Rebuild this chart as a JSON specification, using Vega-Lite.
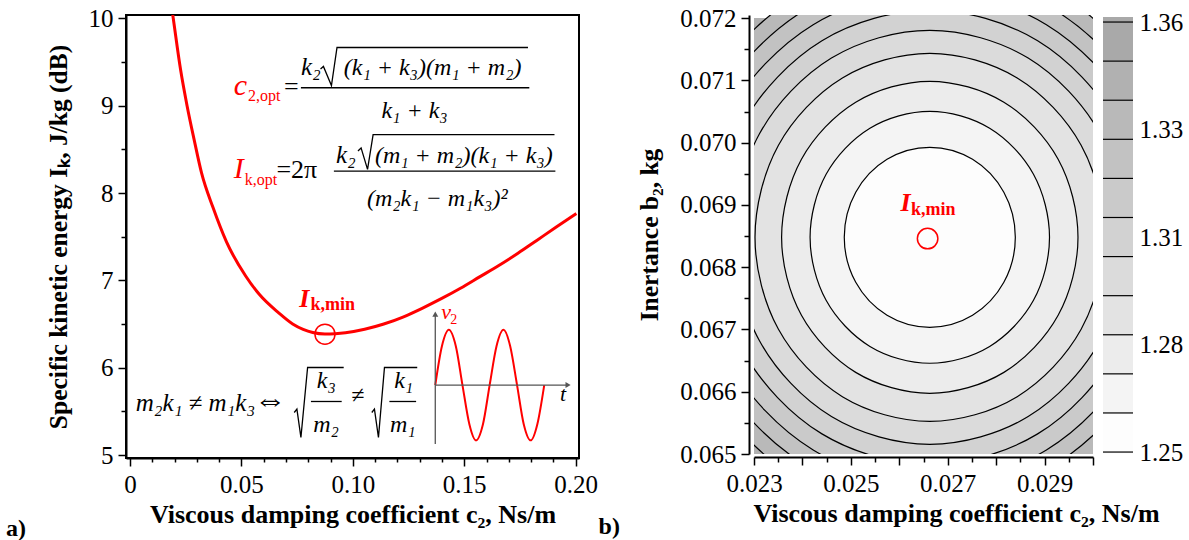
{
  "$schema": "https://vega.github.io/schema/vega-lite/v6.json",
  "background": "white",
  "padding": {"left": 5, "top": 5, "right": 0, "bottom": 0},
  "bounds": "flush",
  "spacing": 175,
  "config": {
    "font": "Liberation Serif",
    "axis": {"labelFont": "Liberation Serif", "titleFont": "Liberation Serif", "labelColor": "black", "titleColor": "black", "domainColor": "black", "tickColor": "black", "grid": false, "labelFontSize": 25, "titleFontSize": 26, "titleFontWeight": "bold", "labelFlush": false, "labelOverlap": false},
    "text": {"font": "Liberation Serif"}
  },
  "hconcat": [
    {
      "width": 453,
      "height": 443,
      "view": {"stroke": "black", "strokeWidth": 2},
      "resolve": {"axis": {"x": "independent", "y": "independent"}},
      "layer": [
        {
          "data": {"values": [
            {"c": 0.0180, "I": 10.25}, {"c": 0.0194, "I": 10.00}, {"c": 0.0227, "I": 9.41}, {"c": 0.0256, "I": 9.00},
            {"c": 0.0287, "I": 8.62}, {"c": 0.0321, "I": 8.23}, {"c": 0.0373, "I": 7.83}, {"c": 0.0433, "I": 7.44},
            {"c": 0.0519, "I": 7.05}, {"c": 0.0580, "I": 6.84}, {"c": 0.0666, "I": 6.63}, {"c": 0.0730, "I": 6.50},
            {"c": 0.0777, "I": 6.438}, {"c": 0.0820, "I": 6.402}, {"c": 0.0875, "I": 6.385}, {"c": 0.0921, "I": 6.389},
            {"c": 0.0967, "I": 6.40}, {"c": 0.1053, "I": 6.44}, {"c": 0.1139, "I": 6.50},
            {"c": 0.1225, "I": 6.58}, {"c": 0.1311, "I": 6.68}, {"c": 0.1397, "I": 6.79}, {"c": 0.1483, "I": 6.91},
            {"c": 0.1569, "I": 7.04}, {"c": 0.1655, "I": 7.17}, {"c": 0.1741, "I": 7.31}, {"c": 0.1827, "I": 7.46},
            {"c": 0.1913, "I": 7.61}, {"c": 0.2003, "I": 7.765}
          ]},
          "mark": {"type": "line", "color": "#ff0000", "strokeWidth": 3, "interpolate": "monotone", "clip": true},
          "encoding": {
            "x": {"field": "c", "type": "quantitative", "scale": {"domain": [-0.0018, 0.2015], "nice": false, "zero": false},
              "axis": {"values": [0, 0.05, 0.1, 0.15, 0.2], "labelExpr": "datum.value == 0 ? '0' : format(datum.value, '.2f')", "tickSize": 8, "tickWidth": 1.5, "domainWidth": 2, "labelPadding": 6, "title": "Viscous damping coefficient  c₂, Ns/m", "titlePadding": 4}},
            "y": {"field": "I", "type": "quantitative", "scale": {"domain": [4.966, 10.038], "nice": false, "zero": false},
              "axis": {"values": [5, 6, 7, 8, 9, 10], "format": "d", "tickSize": 8, "tickWidth": 1.5, "domainWidth": 2, "labelPadding": 5, "title": "Specific kinetic energy Iₖ, J/kg (dB)", "titleFontSize": 25.5, "titlePadding": 17}}
          }
        },
        {
          "data": {"values": [{"c": 0.0875, "I": 6.384}]},
          "mark": {"type": "point", "shape": "circle", "size": 400, "filled": false, "stroke": "#ff0000", "strokeWidth": 1.5, "opacity": 1},
          "encoding": {
            "x": {"field": "c", "type": "quantitative", "axis": {"orient": "bottom", "values": [0.01, 0.02, 0.03, 0.04, 0.06, 0.07, 0.08, 0.09, 0.11, 0.12, 0.13, 0.14, 0.16, 0.17, 0.18, 0.19], "tickSize": 4, "tickWidth": 1.5, "labels": false, "domain": false, "title": null}},
            "y": {"field": "I", "type": "quantitative", "axis": {"orient": "left", "values": [5.5, 6.5, 7.5, 8.5, 9.5], "tickSize": 5, "tickWidth": 1.5, "labels": false, "domain": false, "title": null}}
          }
        },
        {
          "data": {"values": [
            {"c": 0.1370, "I": 5.801}, {"c": 0.1400, "I": 6.249}, {"c": 0.1431, "I": 6.434}, {"c": 0.1462, "I": 6.249},
            {"c": 0.1492, "I": 5.801}, {"c": 0.1523, "I": 5.353}, {"c": 0.1553, "I": 5.168}, {"c": 0.1584, "I": 5.353},
            {"c": 0.1614, "I": 5.801}, {"c": 0.1645, "I": 6.249}, {"c": 0.1676, "I": 6.434}, {"c": 0.1706, "I": 6.249},
            {"c": 0.1737, "I": 5.801}, {"c": 0.1767, "I": 5.353}, {"c": 0.1798, "I": 5.168}, {"c": 0.1828, "I": 5.353},
            {"c": 0.1859, "I": 5.801}
          ]},
          "mark": {"type": "line", "color": "#ff0000", "strokeWidth": 2, "interpolate": "cardinal"},
          "encoding": {
            "x": {"field": "c", "type": "quantitative", "axis": null},
            "y": {"field": "I", "type": "quantitative", "axis": null}
          }
        },
        {
          "data": {"values": [
            {"x": 0.1370, "x2": 0.1370, "y": 5.126, "y2": 6.613},
            {"x": 0.1370, "x2": 0.1966, "y": 5.801, "y2": 5.801}
          ]},
          "mark": {"type": "rule", "color": "#555555", "strokeWidth": 1.3},
          "encoding": {
            "x": {"field": "x", "type": "quantitative", "axis": null}, "x2": {"field": "x2"},
            "y": {"field": "y", "type": "quantitative", "axis": null}, "y2": {"field": "y2"}
          }
        },
        {
          "data": {"values": [{"x": 0.1370, "y": 6.613}]},
          "mark": {"type": "point", "shape": "triangle-up", "size": 35, "filled": true, "color": "#555555", "opacity": 1},
          "encoding": {"x": {"field": "x", "type": "quantitative", "axis": null}, "y": {"field": "y", "type": "quantitative", "axis": null}}
        },
        {
          "data": {"values": [{"x": 0.1966, "y": 5.801}]},
          "mark": {"type": "point", "shape": "triangle-right", "size": 35, "filled": true, "color": "#555555", "opacity": 1},
          "encoding": {"x": {"field": "x", "type": "quantitative", "axis": null}, "y": {"field": "y", "type": "quantitative", "axis": null}}
        },
        {
          "data": {"values": [
            {"x": 0.0767, "x2": 0.1792, "y": 9.205},
            {"x": 0.0915, "x2": 0.1909, "y": 8.250},
            {"x": 0.0812, "x2": 0.0950, "y": 5.613},
            {"x": 0.1164, "x2": 0.1284, "y": 5.613}
          ]},
          "mark": {"type": "rule", "color": "black", "strokeWidth": 1.3},
          "encoding": {
            "x": {"field": "x", "type": "quantitative", "axis": null}, "x2": {"field": "x2"},
            "y": {"field": "y", "type": "quantitative", "axis": null}
          }
        },
        {
          "data": {"values": [
            {"g": 1, "i": 0, "x": 0.0855, "y": 9.420}, {"g": 1, "i": 1, "x": 0.0868, "y": 9.449}, {"g": 1, "i": 2, "x": 0.0904, "y": 9.231}, {"g": 1, "i": 3, "x": 0.0929, "y": 9.666}, {"g": 1, "i": 4, "x": 0.1786, "y": 9.666},
            {"g": 2, "i": 0, "x": 0.1023, "y": 8.482}, {"g": 2, "i": 1, "x": 0.1037, "y": 8.516}, {"g": 2, "i": 2, "x": 0.1066, "y": 8.270}, {"g": 2, "i": 3, "x": 0.1091, "y": 8.669}, {"g": 2, "i": 4, "x": 0.1905, "y": 8.669},
            {"g": 3, "i": 0, "x": 0.0737, "y": 5.487}, {"g": 3, "i": 1, "x": 0.0749, "y": 5.526}, {"g": 3, "i": 2, "x": 0.0767, "y": 5.201}, {"g": 3, "i": 3, "x": 0.0797, "y": 6.002}, {"g": 3, "i": 4, "x": 0.0959, "y": 6.002},
            {"g": 4, "i": 0, "x": 0.1085, "y": 5.487}, {"g": 4, "i": 1, "x": 0.1097, "y": 5.526}, {"g": 4, "i": 2, "x": 0.1115, "y": 5.201}, {"g": 4, "i": 3, "x": 0.1142, "y": 6.002}, {"g": 4, "i": 4, "x": 0.1289, "y": 6.002}
          ]},
          "mark": {"type": "line", "color": "black", "strokeWidth": 1.3, "interpolate": "linear"},
          "encoding": {
            "x": {"field": "x", "type": "quantitative", "axis": null},
            "y": {"field": "y", "type": "quantitative", "axis": null},
            "detail": {"field": "g", "type": "nominal"},
            "order": {"field": "i", "type": "quantitative"}
          }
        },
        {
          "data": {"values": [
            {"x": 0.1358, "y": 9.351, "t": "(k₁ + k₃)(m₁ + m₂)"},
            {"x": 0.1277, "y": 8.859, "t": "k₁ + k₃"},
            {"x": 0.1498, "y": 8.347, "t": "(m₁ + m₂)(k₁ + k₃)"},
            {"x": 0.1379, "y": 7.854, "t": "(m₂k₁ − m₁k₃)²"},
            {"x": 0.0881, "y": 5.764, "t": "k₃"},
            {"x": 0.0880, "y": 5.267, "t": "m₂"},
            {"x": 0.1228, "y": 5.764, "t": "k₁"},
            {"x": 0.1224, "y": 5.267, "t": "m₁"},
            {"x": 0.1022, "y": 5.590, "t": "≠"}
          ]},
          "mark": {"type": "text", "fontSize": 24, "fontStyle": "italic", "align": "center", "baseline": "alphabetic", "color": "black"},
          "encoding": {"x": {"field": "x", "type": "quantitative", "axis": null}, "y": {"field": "y", "type": "quantitative", "axis": null}, "text": {"field": "t"}}
        },
        {
          "data": {"values": [
            {"x": 0.0767, "y": 9.351, "t": "k₂"},
            {"x": 0.0924, "y": 8.347, "t": "k₂"},
            {"x": 0.0026, "y": 5.507, "t": "m₂k₁ ≠ m₁k₃"}
          ]},
          "mark": {"type": "text", "fontSize": 25, "fontStyle": "italic", "align": "left", "baseline": "alphabetic", "color": "black"},
          "encoding": {"x": {"field": "x", "type": "quantitative", "axis": null}, "y": {"field": "y", "type": "quantitative", "axis": null}, "text": {"field": "t"}}
        },
        {
          "data": {"values": [{"x": 0.0628, "y": 5.52, "t": "⇔"}]},
          "mark": {"type": "text", "fontSize": 32, "align": "center", "baseline": "alphabetic", "color": "black"},
          "encoding": {"x": {"field": "x", "type": "quantitative", "axis": null}, "y": {"field": "y", "type": "quantitative", "axis": null}, "text": {"field": "t"}}
        },
        {
          "data": {"values": [
            {"x": 0.0691, "y": 9.119, "t": "="},
            {"x": 0.0657, "y": 8.175, "t": "=2π"}
          ]},
          "mark": {"type": "text", "fontSize": 26, "align": "left", "baseline": "alphabetic", "color": "black"},
          "encoding": {"x": {"field": "x", "type": "quantitative", "axis": null}, "y": {"field": "y", "type": "quantitative", "axis": null}, "text": {"field": "t"}}
        },
        {
          "data": {"values": [
            {"x": 0.0466, "y": 9.126, "t": "c"},
            {"x": 0.0466, "y": 8.169, "t": "I"}
          ]},
          "mark": {"type": "text", "fontSize": 30, "fontStyle": "italic", "align": "left", "baseline": "alphabetic", "color": "#ff0000"},
          "encoding": {"x": {"field": "x", "type": "quantitative", "axis": null}, "y": {"field": "y", "type": "quantitative", "axis": null}, "text": {"field": "t"}}
        },
        {
          "data": {"values": [
            {"x": 0.0530, "y": 9.054, "t": "2,opt"},
            {"x": 0.0515, "y": 8.090, "t": "k,opt"}
          ]},
          "mark": {"type": "text", "fontSize": 16, "align": "left", "baseline": "alphabetic", "color": "#ff0000"},
          "encoding": {"x": {"field": "x", "type": "quantitative", "axis": null}, "y": {"field": "y", "type": "quantitative", "axis": null}, "text": {"field": "t"}}
        },
        {
          "data": {"values": [{"x": 0.0760, "y": 6.699, "t": "I"}]},
          "mark": {"type": "text", "fontSize": 26, "fontStyle": "italic", "fontWeight": "bold", "align": "left", "baseline": "alphabetic", "color": "#ff0000"},
          "encoding": {"x": {"field": "x", "type": "quantitative", "axis": null}, "y": {"field": "y", "type": "quantitative", "axis": null}, "text": {"field": "t"}}
        },
        {
          "data": {"values": [{"x": 0.0810, "y": 6.664, "t": "k,min"}]},
          "mark": {"type": "text", "fontSize": 18, "fontWeight": "bold", "align": "left", "baseline": "alphabetic", "color": "#ff0000"},
          "encoding": {"x": {"field": "x", "type": "quantitative", "axis": null}, "y": {"field": "y", "type": "quantitative", "axis": null}, "text": {"field": "t"}}
        },
        {
          "data": {"values": [{"x": 0.1397, "y": 6.554, "t": "v"}]},
          "mark": {"type": "text", "fontSize": 22, "fontStyle": "italic", "align": "left", "baseline": "alphabetic", "color": "#ff0000"},
          "encoding": {"x": {"field": "x", "type": "quantitative", "axis": null}, "y": {"field": "y", "type": "quantitative", "axis": null}, "text": {"field": "t"}}
        },
        {
          "data": {"values": [{"x": 0.1437, "y": 6.500, "t": "2"}]},
          "mark": {"type": "text", "fontSize": 14, "align": "left", "baseline": "alphabetic", "color": "#ff0000"},
          "encoding": {"x": {"field": "x", "type": "quantitative", "axis": null}, "y": {"field": "y", "type": "quantitative", "axis": null}, "text": {"field": "t"}}
        },
        {
          "data": {"values": [{"x": 0.1944, "y": 5.620, "t": "t"}]},
          "mark": {"type": "text", "fontSize": 22, "fontStyle": "italic", "align": "center", "baseline": "alphabetic", "color": "black"},
          "encoding": {"x": {"field": "x", "type": "quantitative", "axis": null}, "y": {"field": "y", "type": "quantitative", "axis": null}, "text": {"field": "t"}}
        },
        {
          "data": {"values": [{"x": -0.0556, "y": 4.077, "t": "a)"}, {"x": 0.2103, "y": 4.100, "t": "b)"}]},
          "mark": {"type": "text", "fontSize": 24, "fontWeight": "bold", "align": "left", "baseline": "alphabetic", "color": "black"},
          "encoding": {"x": {"field": "x", "type": "quantitative", "axis": null}, "y": {"field": "y", "type": "quantitative", "axis": null}, "text": {"field": "t"}}
        }
      ]
    },
    {
      "bounds": "flush",
      "spacing": 10,
      "hconcat": [
        {
          "width": 339,
          "height": 439,
          "view": {"stroke": null},
          "resolve": {"axis": {"x": "independent", "y": "independent"}},
          "layer": [
            {
              "data": {"values": [{"x": 0.023, "x2": 0.030, "y": 0.065, "y2": 0.072, "L": 1.35}]},
              "mark": {"type": "rect"},
              "encoding": {
                "x": {"field": "x", "type": "quantitative", "scale": {"domain": [0.023, 0.030], "nice": false, "zero": false},
                  "axis": {"values": [0.023, 0.024, 0.025, 0.026, 0.027, 0.028, 0.029, 0.030], "labelExpr": "(round(datum.value*1000) % 2 == 1) ? format(datum.value, '.3f') : ''", "tickSize": 8, "tickWidth": 1.5, "domainWidth": 2, "offset": 3, "labelPadding": 6, "title": "Viscous damping coefficient  c₂, Ns/m", "titlePadding": 4, "titleX": 202, "titleAlign": "center"}},
                "x2": {"field": "x2"},
                "y": {"field": "y", "type": "quantitative", "scale": {"domain": [0.065, 0.07205], "nice": false, "zero": false},
                  "axis": {"values": [0.065, 0.066, 0.067, 0.068, 0.069, 0.070, 0.071, 0.072], "format": ".3f", "tickSize": 8, "tickWidth": 1.5, "domainWidth": 2, "offset": 5, "labelPadding": 5, "title": "Inertance b₂, kg", "titleFontSize": 25.5, "titlePadding": 17}},
                "y2": {"field": "y2"},
                "color": {"field": "L", "type": "quantitative", "scale": {"domain": [1.26, 1.36], "range": ["#fdfdfd", "#a9a9a9"]}, "legend": null}
              }
            },
            {
              "data": {"values": [
                {"L":1.34,"i":0,"x":0.032097,"y":0.068480},{"L":1.34,"i":1,"x":0.031364,"y":0.070718},{"L":1.34,"i":2,"x":0.029364,"y":0.072356},{"L":1.34,"i":3,"x":0.026630,"y":0.072956},{"L":1.34,"i":4,"x":0.023896,"y":0.072356},{"L":1.34,"i":5,"x":0.021896,"y":0.070718},{"L":1.34,"i":6,"x":0.021163,"y":0.068480},{"L":1.34,"i":7,"x":0.021896,"y":0.066242},{"L":1.34,"i":8,"x":0.023896,"y":0.064604},{"L":1.34,"i":9,"x":0.026630,"y":0.064004},{"L":1.34,"i":10,"x":0.029364,"y":0.064604},{"L":1.34,"i":11,"x":0.031364,"y":0.066242},
                {"L":1.33,"i":0,"x":0.031781,"y":0.068480},{"L":1.33,"i":1,"x":0.031091,"y":0.070589},{"L":1.33,"i":2,"x":0.029206,"y":0.072132},{"L":1.33,"i":3,"x":0.026630,"y":0.072697},{"L":1.33,"i":4,"x":0.024054,"y":0.072132},{"L":1.33,"i":5,"x":0.022169,"y":0.070589},{"L":1.33,"i":6,"x":0.021479,"y":0.068480},{"L":1.33,"i":7,"x":0.022169,"y":0.066371},{"L":1.33,"i":8,"x":0.024054,"y":0.064828},{"L":1.33,"i":9,"x":0.026630,"y":0.064263},{"L":1.33,"i":10,"x":0.029206,"y":0.064828},{"L":1.33,"i":11,"x":0.031091,"y":0.066371},
                {"L":1.32,"i":0,"x":0.031446,"y":0.068480},{"L":1.32,"i":1,"x":0.030801,"y":0.070452},{"L":1.32,"i":2,"x":0.029038,"y":0.071895},{"L":1.32,"i":3,"x":0.026630,"y":0.072423},{"L":1.32,"i":4,"x":0.024222,"y":0.071895},{"L":1.32,"i":5,"x":0.022459,"y":0.070452},{"L":1.32,"i":6,"x":0.021814,"y":0.068480},{"L":1.32,"i":7,"x":0.022459,"y":0.066508},{"L":1.32,"i":8,"x":0.024222,"y":0.065065},{"L":1.32,"i":9,"x":0.026630,"y":0.064537},{"L":1.32,"i":10,"x":0.029038,"y":0.065065},{"L":1.32,"i":11,"x":0.030801,"y":0.066508},
                {"L":1.31,"i":0,"x":0.031083,"y":0.068480},{"L":1.31,"i":1,"x":0.030486,"y":0.070303},{"L":1.31,"i":2,"x":0.028857,"y":0.071637},{"L":1.31,"i":3,"x":0.026630,"y":0.072125},{"L":1.31,"i":4,"x":0.024403,"y":0.071637},{"L":1.31,"i":5,"x":0.022774,"y":0.070303},{"L":1.31,"i":6,"x":0.022177,"y":0.068480},{"L":1.31,"i":7,"x":0.022774,"y":0.066657},{"L":1.31,"i":8,"x":0.024403,"y":0.065323},{"L":1.31,"i":9,"x":0.026630,"y":0.064835},{"L":1.31,"i":10,"x":0.028857,"y":0.065323},{"L":1.31,"i":11,"x":0.030486,"y":0.066657},
                {"L":1.30,"i":0,"x":0.030691,"y":0.068480},{"L":1.30,"i":1,"x":0.030147,"y":0.070142},{"L":1.30,"i":2,"x":0.028661,"y":0.071359},{"L":1.30,"i":3,"x":0.026630,"y":0.071804},{"L":1.30,"i":4,"x":0.024599,"y":0.071359},{"L":1.30,"i":5,"x":0.023113,"y":0.070142},{"L":1.30,"i":6,"x":0.022569,"y":0.068480},{"L":1.30,"i":7,"x":0.023113,"y":0.066818},{"L":1.30,"i":8,"x":0.024599,"y":0.065601},{"L":1.30,"i":9,"x":0.026630,"y":0.065156},{"L":1.30,"i":10,"x":0.028661,"y":0.065601},{"L":1.30,"i":11,"x":0.030147,"y":0.066818},
                {"L":1.29,"i":0,"x":0.030239,"y":0.068480},{"L":1.29,"i":1,"x":0.029755,"y":0.069958},{"L":1.29,"i":2,"x":0.028435,"y":0.071039},{"L":1.29,"i":3,"x":0.026630,"y":0.071435},{"L":1.29,"i":4,"x":0.024825,"y":0.071039},{"L":1.29,"i":5,"x":0.023505,"y":0.069958},{"L":1.29,"i":6,"x":0.023021,"y":0.068480},{"L":1.29,"i":7,"x":0.023505,"y":0.067002},{"L":1.29,"i":8,"x":0.024825,"y":0.065921},{"L":1.29,"i":9,"x":0.026630,"y":0.065525},{"L":1.29,"i":10,"x":0.028435,"y":0.065921},{"L":1.29,"i":11,"x":0.029755,"y":0.067002},
                {"L":1.28,"i":0,"x":0.029690,"y":0.068480},{"L":1.28,"i":1,"x":0.029280,"y":0.069733},{"L":1.28,"i":2,"x":0.028160,"y":0.070649},{"L":1.28,"i":3,"x":0.026630,"y":0.070985},{"L":1.28,"i":4,"x":0.025100,"y":0.070649},{"L":1.28,"i":5,"x":0.023980,"y":0.069733},{"L":1.28,"i":6,"x":0.023570,"y":0.068480},{"L":1.28,"i":7,"x":0.023980,"y":0.067227},{"L":1.28,"i":8,"x":0.025100,"y":0.066311},{"L":1.28,"i":9,"x":0.026630,"y":0.065975},{"L":1.28,"i":10,"x":0.028160,"y":0.066311},{"L":1.28,"i":11,"x":0.029280,"y":0.067227},
                {"L":1.27,"i":0,"x":0.029102,"y":0.068480},{"L":1.27,"i":1,"x":0.028771,"y":0.069492},{"L":1.27,"i":2,"x":0.027866,"y":0.070232},{"L":1.27,"i":3,"x":0.026630,"y":0.070503},{"L":1.27,"i":4,"x":0.025394,"y":0.070232},{"L":1.27,"i":5,"x":0.024489,"y":0.069492},{"L":1.27,"i":6,"x":0.024158,"y":0.068480},{"L":1.27,"i":7,"x":0.024489,"y":0.067468},{"L":1.27,"i":8,"x":0.025394,"y":0.066728},{"L":1.27,"i":9,"x":0.026630,"y":0.066457},{"L":1.27,"i":10,"x":0.027866,"y":0.066728},{"L":1.27,"i":11,"x":0.028771,"y":0.067468},
                {"L":1.26,"i":0,"x":0.028396,"y":0.068480},{"L":1.26,"i":1,"x":0.028159,"y":0.069203},{"L":1.26,"i":2,"x":0.027513,"y":0.069732},{"L":1.26,"i":3,"x":0.026630,"y":0.069925},{"L":1.26,"i":4,"x":0.025747,"y":0.069732},{"L":1.26,"i":5,"x":0.025101,"y":0.069203},{"L":1.26,"i":6,"x":0.024864,"y":0.068480},{"L":1.26,"i":7,"x":0.025101,"y":0.067757},{"L":1.26,"i":8,"x":0.025747,"y":0.067228},{"L":1.26,"i":9,"x":0.026630,"y":0.067035},{"L":1.26,"i":10,"x":0.027513,"y":0.067228},{"L":1.26,"i":11,"x":0.028159,"y":0.067757}
              ]},
              "mark": {"type": "line", "filled": true, "interpolate": "cardinal-closed", "stroke": "black", "strokeWidth": 1.2, "clip": true},
              "encoding": {
                "x": {"field": "x", "type": "quantitative", "axis": {"orient": "bottom", "values": [0.0235, 0.0245, 0.0255, 0.0265, 0.0275, 0.0285, 0.0295], "tickSize": 5, "tickWidth": 1.5, "labels": false, "domain": false, "offset": 3, "title": null}},
                "y": {"field": "y", "type": "quantitative", "axis": {"orient": "left", "values": [0.0655, 0.0665, 0.0675, 0.0685, 0.0695, 0.0705, 0.0715], "tickSize": 5, "tickWidth": 1.5, "labels": false, "domain": false, "offset": 5, "title": null}},
                "order": {"field": "i", "type": "quantitative"},
                "color": {"field": "L", "type": "quantitative", "legend": null}
              }
            },
            {
              "data": {"values": [{"x": 0.026585, "y": 0.068459}]},
              "mark": {"type": "point", "shape": "circle", "size": 420, "filled": false, "stroke": "#ff0000", "strokeWidth": 1.5, "opacity": 1},
              "encoding": {"x": {"field": "x", "type": "quantitative", "axis": null}, "y": {"field": "y", "type": "quantitative", "axis": null}}
            },
            {
              "data": {"values": [{"x": 0.026023, "y": 0.068902, "t": "I"}]},
              "mark": {"type": "text", "fontSize": 26, "fontStyle": "italic", "fontWeight": "bold", "align": "left", "baseline": "alphabetic", "color": "#ff0000"},
              "encoding": {"x": {"field": "x", "type": "quantitative", "axis": null}, "y": {"field": "y", "type": "quantitative", "axis": null}, "text": {"field": "t"}}
            },
            {
              "data": {"values": [{"x": 0.026242, "y": 0.068846, "t": "k,min"}]},
              "mark": {"type": "text", "fontSize": 18, "fontWeight": "bold", "align": "left", "baseline": "alphabetic", "color": "#ff0000"},
              "encoding": {"x": {"field": "x", "type": "quantitative", "axis": null}, "y": {"field": "y", "type": "quantitative", "axis": null}, "text": {"field": "t"}}
            }
          ]
        },
        {
          "width": 30,
          "height": 439,
          "view": {"stroke": null},
          "layer": [
            {
              "data": {"values": [
                {"lo": 1.2495, "hi": 1.26, "L": 1.26}, {"lo": 1.26, "hi": 1.27, "L": 1.27}, {"lo": 1.27, "hi": 1.28, "L": 1.28},
                {"lo": 1.28, "hi": 1.29, "L": 1.29}, {"lo": 1.29, "hi": 1.30, "L": 1.30}, {"lo": 1.30, "hi": 1.31, "L": 1.31},
                {"lo": 1.31, "hi": 1.32, "L": 1.32}, {"lo": 1.32, "hi": 1.33, "L": 1.33}, {"lo": 1.33, "hi": 1.34, "L": 1.34},
                {"lo": 1.34, "hi": 1.35, "L": 1.35}, {"lo": 1.35, "hi": 1.3613, "L": 1.36}
              ]},
              "mark": {"type": "rect"},
              "encoding": {
                "y": {"field": "lo", "type": "quantitative", "scale": {"domain": [1.2495, 1.3618], "nice": false, "zero": false},
                  "axis": {"orient": "right", "values": [1.25, 1.2775, 1.305, 1.3325, 1.36], "labelExpr": "datum.value < 1.26 ? '1.25' : datum.value < 1.29 ? '1.28' : datum.value < 1.32 ? '1.31' : datum.value < 1.35 ? '1.33' : '1.36'", "ticks": false, "domain": false, "labelPadding": 6, "title": null}},
                "y2": {"field": "hi"},
                "color": {"field": "L", "type": "quantitative", "scale": {"domain": [1.26, 1.36], "range": ["#fdfdfd", "#a9a9a9"]}, "legend": null}
              }
            },
            {
              "data": {"values": [
                {"v": 1.25}, {"v": 1.26}, {"v": 1.27}, {"v": 1.28}, {"v": 1.29}, {"v": 1.30},
                {"v": 1.31}, {"v": 1.32}, {"v": 1.33}, {"v": 1.34}, {"v": 1.35}, {"v": 1.36}
              ]},
              "mark": {"type": "rule", "color": "black", "strokeWidth": 1.2},
              "encoding": {"y": {"field": "v", "type": "quantitative"}}
            }
          ]
        }
      ]
    }
  ]
}
